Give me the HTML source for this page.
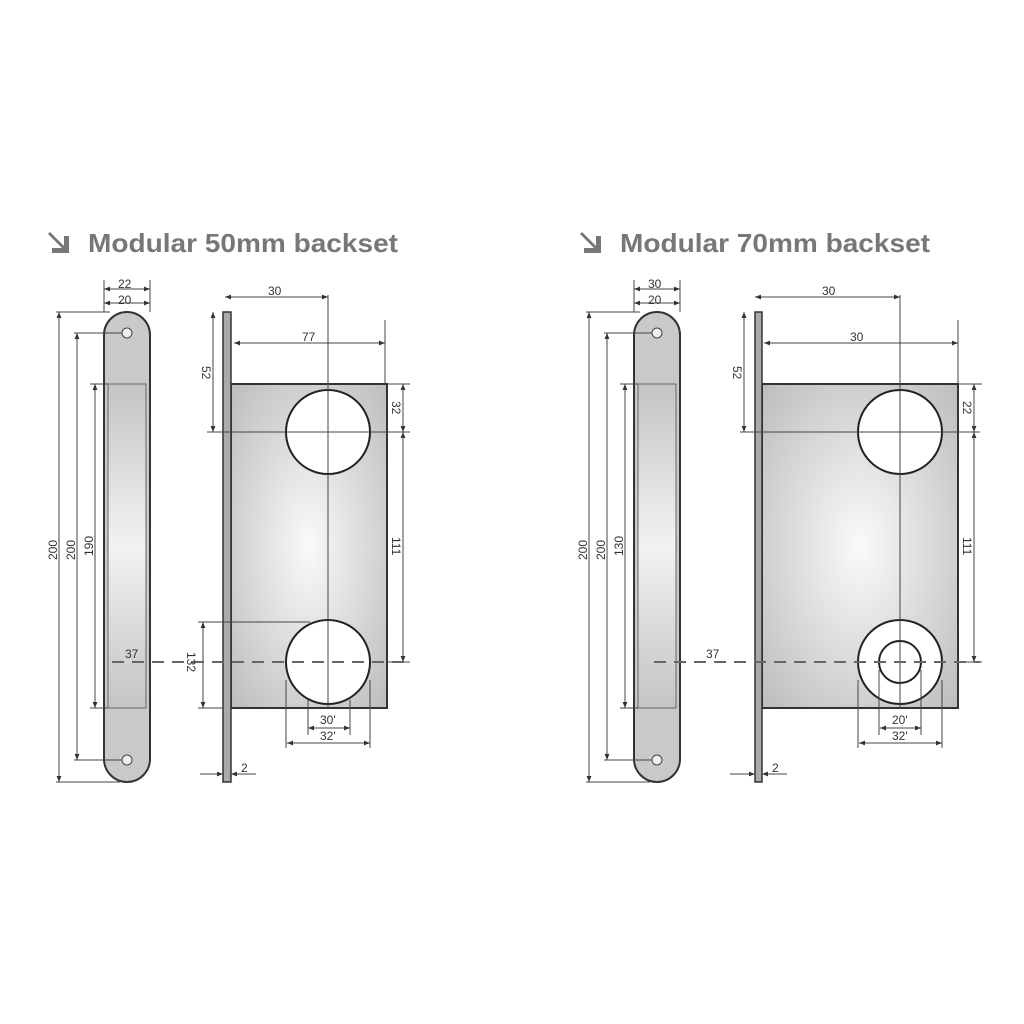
<!DOCTYPE html>
<html><head><meta charset="utf-8"><style>
html,body{margin:0;padding:0;background:#fff}
svg{display:block}
text{font-family:"Liberation Sans",sans-serif;fill:#333}
</style></head><body>
<svg width="1024" height="1024" viewBox="0 0 1024 1024" xmlns="http://www.w3.org/2000/svg">
<defs>
<radialGradient id="g1" cx="0.5" cy="0.5" r="0.7"><stop offset="0" stop-color="#fafafa"/><stop offset="1" stop-color="#bdbdbd"/></radialGradient>
<linearGradient id="g2" x1="0" y1="0" x2="0" y2="1"><stop offset="0" stop-color="#c4c4c4"/><stop offset="0.5" stop-color="#f2f2f2"/><stop offset="1" stop-color="#c4c4c4"/></linearGradient>
<marker id="a" viewBox="0 0 10 10" refX="10" refY="5" markerWidth="6" markerHeight="6" orient="auto-start-reverse"><path d="M0,1L10,5L0,9z" fill="#333"/></marker>
</defs>

<!-- ===== LEFT ===== -->
<g>
<path d="M50,232 l14,14 v-10 h5 v17 h-17 v-5 h10 l-14,-14z" fill="#777"/>
<text x="88" y="252" font-size="26" font-weight="bold" textLength="310" lengthAdjust="spacingAndGlyphs" style="fill:#777">Modular 50mm backset</text>
<g stroke="#444" stroke-width="1" fill="none">
<path d="M104,335 a23,23 0 0 1 46,0 v424 a23,23 0 0 1 -46,0z" fill="#c9c9c9" stroke="#333" stroke-width="2"/>
<rect x="108" y="384" width="38" height="324" fill="url(#g2)" stroke="#666"/>
<circle cx="127" cy="333" r="5" fill="#eee"/><circle cx="127" cy="760" r="5" fill="#eee"/>
<line x1="104" y1="280" x2="104" y2="312"/><line x1="150" y1="280" x2="150" y2="312"/>
<line x1="104" y1="289" x2="150" y2="289" marker-start="url(#a)" marker-end="url(#a)"/>
<line x1="104" y1="303" x2="150" y2="303" marker-start="url(#a)" marker-end="url(#a)"/>
<line x1="56" y1="312" x2="110" y2="312"/><line x1="56" y1="782" x2="120" y2="782"/>
<line x1="59" y1="312" x2="59" y2="782" marker-start="url(#a)" marker-end="url(#a)"/>
<line x1="74" y1="333" x2="122" y2="333"/><line x1="74" y1="760" x2="122" y2="760"/>
<line x1="77" y1="333" x2="77" y2="760" marker-start="url(#a)" marker-end="url(#a)"/>
<line x1="90" y1="384" x2="108" y2="384"/><line x1="90" y1="708" x2="108" y2="708"/>
<line x1="95" y1="384" x2="95" y2="708" marker-start="url(#a)" marker-end="url(#a)"/>
<rect x="231" y="384" width="156" height="324" fill="url(#g1)" stroke="#333" stroke-width="2"/>
<rect x="223" y="312" width="8" height="470" fill="#aaa" stroke="#333" stroke-width="1.5"/>
<circle cx="328" cy="432" r="42" fill="#fff" stroke="#222" stroke-width="2"/>
<circle cx="328" cy="662" r="42" fill="#fff" stroke="#222" stroke-width="2"/>
<line x1="328" y1="295" x2="328" y2="708"/>
<line x1="207" y1="432" x2="410" y2="432"/>
<line x1="225" y1="297" x2="328" y2="297" marker-start="url(#a)" marker-end="url(#a)"/>
<line x1="385" y1="320" x2="385" y2="384"/>
<line x1="234" y1="343" x2="385" y2="343" marker-start="url(#a)" marker-end="url(#a)"/>
<line x1="213" y1="312" x2="213" y2="432" marker-start="url(#a)" marker-end="url(#a)"/>
<line x1="387" y1="384" x2="410" y2="384"/><line x1="387" y1="662" x2="410" y2="662"/>
<line x1="403" y1="384" x2="403" y2="432" marker-start="url(#a)" marker-end="url(#a)"/>
<line x1="403" y1="432" x2="403" y2="662" marker-start="url(#a)" marker-end="url(#a)"/>
<line x1="198" y1="622" x2="310" y2="622"/><line x1="198" y1="708" x2="223" y2="708"/>
<line x1="203" y1="622" x2="203" y2="708" marker-start="url(#a)" marker-end="url(#a)"/>
<line x1="308" y1="700" x2="308" y2="735"/><line x1="350" y1="700" x2="350" y2="735"/>
<line x1="286" y1="680" x2="286" y2="748"/><line x1="370" y1="680" x2="370" y2="748"/>
<line x1="308" y1="728" x2="350" y2="728" marker-start="url(#a)" marker-end="url(#a)"/>
<line x1="287" y1="743" x2="370" y2="743" marker-start="url(#a)" marker-end="url(#a)"/>
<line x1="200" y1="774" x2="223" y2="774" marker-end="url(#a)"/>
<line x1="256" y1="774" x2="231" y2="774" marker-end="url(#a)"/>
<line x1="112" y1="662" x2="405" y2="662" stroke="#666" stroke-width="2" stroke-dasharray="12,8"/>
</g>
<g font-size="12">
<text x="118" y="288">22</text><text x="118" y="304">20</text>
<text x="57" y="560" transform="rotate(-90 57 560)">200</text>
<text x="75" y="560" transform="rotate(-90 75 560)">200</text>
<text x="93" y="556" transform="rotate(-90 93 556)">190</text>
<text x="268" y="295">30</text><text x="302" y="341">77</text>
<text x="202" y="366" transform="rotate(90 202 366)">52</text>
<text x="392" y="401" transform="rotate(90 392 401)">32</text>
<text x="392" y="537" transform="rotate(90 392 537)">111</text>
<text x="187" y="652" transform="rotate(90 187 652)">132</text>
<text x="125" y="658">37</text>
<text x="320" y="724">30'</text><text x="320" y="740">32'</text>
<text x="241" y="772">2</text>
</g>
</g>

<!-- ===== RIGHT ===== -->
<g>
<path d="M582,232 l14,14 v-10 h5 v17 h-17 v-5 h10 l-14,-14z" fill="#777"/>
<text x="620" y="252" font-size="26" font-weight="bold" textLength="310" lengthAdjust="spacingAndGlyphs" style="fill:#777">Modular 70mm backset</text>
<g stroke="#444" stroke-width="1" fill="none">
<path d="M634,335 a23,23 0 0 1 46,0 v424 a23,23 0 0 1 -46,0z" fill="#c9c9c9" stroke="#333" stroke-width="2"/>
<rect x="638" y="384" width="38" height="324" fill="url(#g2)" stroke="#666"/>
<circle cx="657" cy="333" r="5" fill="#eee"/><circle cx="657" cy="760" r="5" fill="#eee"/>
<line x1="634" y1="280" x2="634" y2="312"/><line x1="680" y1="280" x2="680" y2="312"/>
<line x1="634" y1="289" x2="680" y2="289" marker-start="url(#a)" marker-end="url(#a)"/>
<line x1="634" y1="303" x2="680" y2="303" marker-start="url(#a)" marker-end="url(#a)"/>
<line x1="586" y1="312" x2="640" y2="312"/><line x1="586" y1="782" x2="650" y2="782"/>
<line x1="589" y1="312" x2="589" y2="782" marker-start="url(#a)" marker-end="url(#a)"/>
<line x1="604" y1="333" x2="652" y2="333"/><line x1="604" y1="760" x2="652" y2="760"/>
<line x1="607" y1="333" x2="607" y2="760" marker-start="url(#a)" marker-end="url(#a)"/>
<line x1="620" y1="384" x2="638" y2="384"/><line x1="620" y1="708" x2="638" y2="708"/>
<line x1="625" y1="384" x2="625" y2="708" marker-start="url(#a)" marker-end="url(#a)"/>
<rect x="762" y="384" width="196" height="324" fill="url(#g1)" stroke="#333" stroke-width="2"/>
<rect x="755" y="312" width="7" height="470" fill="#aaa" stroke="#333" stroke-width="1.5"/>
<circle cx="900" cy="432" r="42" fill="#fff" stroke="#222" stroke-width="2"/>
<circle cx="900" cy="662" r="42" fill="#fff" stroke="#222" stroke-width="2"/>
<circle cx="900" cy="662" r="21" fill="#fff" stroke="#222" stroke-width="2"/>
<line x1="900" y1="295" x2="900" y2="708"/>
<line x1="740" y1="432" x2="980" y2="432"/>
<line x1="755" y1="297" x2="900" y2="297" marker-start="url(#a)" marker-end="url(#a)"/>
<line x1="958" y1="320" x2="958" y2="384"/>
<line x1="764" y1="343" x2="958" y2="343" marker-start="url(#a)" marker-end="url(#a)"/>
<line x1="744" y1="312" x2="744" y2="432" marker-start="url(#a)" marker-end="url(#a)"/>
<line x1="958" y1="384" x2="982" y2="384"/><line x1="958" y1="662" x2="982" y2="662"/>
<line x1="974" y1="384" x2="974" y2="432" marker-start="url(#a)" marker-end="url(#a)"/>
<line x1="974" y1="432" x2="974" y2="662" marker-start="url(#a)" marker-end="url(#a)"/>
<line x1="879" y1="670" x2="879" y2="735"/><line x1="921" y1="670" x2="921" y2="735"/>
<line x1="858" y1="680" x2="858" y2="748"/><line x1="942" y1="680" x2="942" y2="748"/>
<line x1="880" y1="728" x2="921" y2="728" marker-start="url(#a)" marker-end="url(#a)"/>
<line x1="859" y1="743" x2="942" y2="743" marker-start="url(#a)" marker-end="url(#a)"/>
<line x1="730" y1="774" x2="755" y2="774" marker-end="url(#a)"/>
<line x1="787" y1="774" x2="762" y2="774" marker-end="url(#a)"/>
<line x1="654" y1="662" x2="980" y2="662" stroke="#666" stroke-width="2" stroke-dasharray="12,8"/>
</g>
<g font-size="12">
<text x="648" y="288">30</text><text x="648" y="304">20</text>
<text x="587" y="560" transform="rotate(-90 587 560)">200</text>
<text x="605" y="560" transform="rotate(-90 605 560)">200</text>
<text x="623" y="556" transform="rotate(-90 623 556)">130</text>
<text x="822" y="295">30</text><text x="850" y="341">30</text>
<text x="733" y="366" transform="rotate(90 733 366)">52</text>
<text x="963" y="401" transform="rotate(90 963 401)">22</text>
<text x="963" y="537" transform="rotate(90 963 537)">111</text>
<text x="706" y="658">37</text>
<text x="892" y="724">20'</text><text x="892" y="740">32'</text>
<text x="772" y="772">2</text>
</g>
</g>
</svg>
</body></html>
